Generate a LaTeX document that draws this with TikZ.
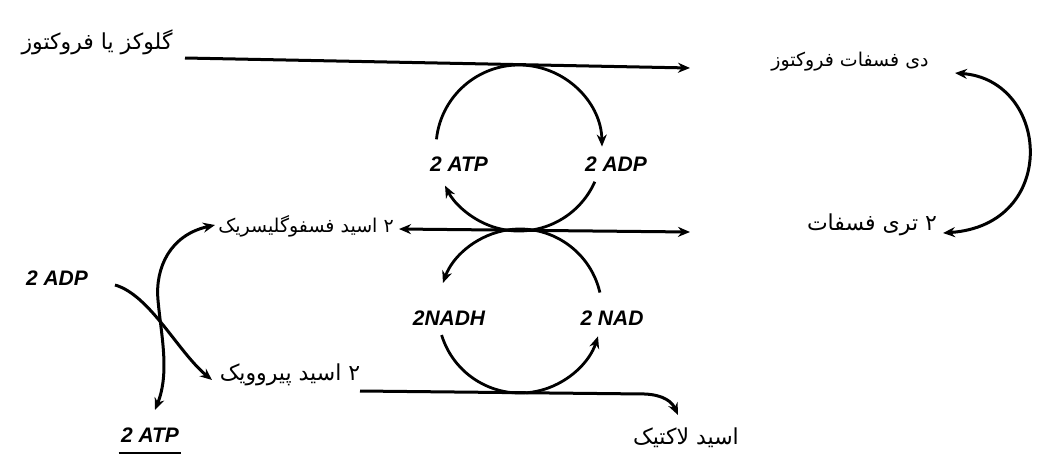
\documentclass[tikz,border=0pt]{standalone}
\usepackage{fontspec}
\usetikzlibrary{arrows.meta}
\newfontfamily\fafont[Script=Arabic]{DejaVu Sans}
\newfontfamily\labelfont{Liberation Sans}
\TeXXeTstate=1
\newcommand{\rtl}[1]{\beginR #1\endR}

\begin{document}
\begin{tikzpicture}[x=0.5pt,y=-0.5pt,>={Stealth[length=6pt,width=5pt]},
  flow/.style={line width=1.5pt},
  cyc/.style={line width=1.4pt},
  lbl/.style={font=\labelfont\bfseries\itshape\fontsize{10.5}{12}\selectfont,inner sep=1pt},
  fa/.style={font=\fafont\fontsize{11}{13}\selectfont,inner sep=1pt},
  fasmall/.style={font=\fafont\fontsize{9.5}{11}\selectfont,inner sep=1pt}]
  \useasboundingbox (0,0) rectangle (1044,461);
  % persian texts
  \node[fa] (glc) at (97,42) {\rtl{گلوکز یا فروکتوز}};
  \node[fasmall] (fdp) at (850,62) {\rtl{دی فسفات فروکتوز}};
  \node[fa] (tp) at (872,225) {\rtl{۲ تری فسفات}};
  \node[fasmall] (pga) at (306,226) {\rtl{۲ اسید فسفوگلیسریک}};
  \node[fa] (pyr) at (290,375) {\rtl{۲ اسید پیروویک}};
  \node[fa] (lac) at (686,438) {\rtl{اسید لاکتیک}};
  % cycle labels
  \node[lbl] (atpA) at (459,164) {2 ATP};
  \node[lbl] (adpA) at (616,164) {2 ADP};
  \node[lbl] (nadh) at (449,318) {2NADH};
  \node[lbl] (nad) at (612,318) {2 NAD};
  \node[lbl] (adpL) at (57,278) {2 ADP};
  \node[lbl] (atpL) at (150,435) {2 ATP};
  % connector ends
  \coordinate (topL) at (185,58);
  \coordinate (topR) at (690,68);
  \coordinate (midL) at (399,229);
  \coordinate (midR) at (690,232);
  \coordinate (lowL) at (360,391);
  \coordinate (lacIn) at (678,415);
  \coordinate (fdpIn) at (955,73);
  \coordinate (tpIn) at (943,233);
  \coordinate (adpOut) at (115,285);
  \coordinate (pyrIn) at (212,380);
  \coordinate (pgaIn) at (215,225);
  \coordinate (atpOut) at (155,410);
  \coordinate (ca) at (519,148);
  \coordinate (cb) at (520,311);
  % main lines
  \draw[flow,->] (topL) -- (topR);
  \draw[flow,<->] (midL) -- (midR);
  \draw[flow,->] (lowL) -- (645,394) .. controls (664,395) and (672,402) .. (lacIn);
  \draw[flow,<->] (fdpIn) .. controls (1050,80) and (1060,225) .. (tpIn);
  \draw[flow,->] (adpOut) .. controls (150,295) and (178,352) .. (pyrIn);
  \draw[flow,<->] (pgaIn) .. controls (170,235) and (155,268) .. (158,300)
    .. controls (161,335) and (170,372) .. (atpOut);
  \draw[line width=1.2pt] ([yshift=-4pt]atpL.south west) -- ([yshift=-4pt]atpL.south east);
  % ATP/ADP cycle
  \draw[cyc,->] ([shift={(186:83)}]ca) arc[start angle=186,end angle=359,radius=83];
  \draw[cyc,->] ([shift={(24:83)}]ca) arc[start angle=24,end angle=153,radius=83];
  % NAD/NADH cycle
  \draw[cyc,->] ([shift={(347:82)}]cb) arc[start angle=347,end angle=200,radius=82];
  \draw[cyc,->] ([shift={(163:82)}]cb) arc[start angle=163,end angle=18,radius=82];
\end{tikzpicture}
\end{document}
